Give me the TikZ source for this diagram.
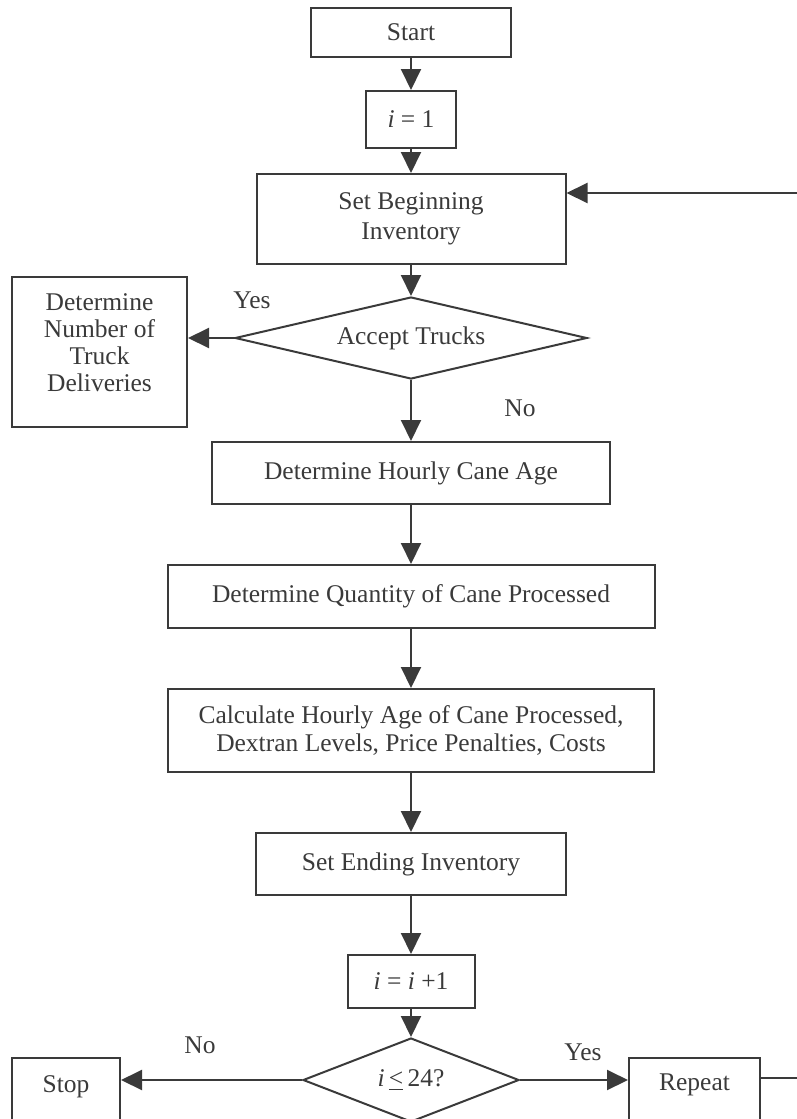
\documentclass[tikz,border=0pt]{standalone}
\usepackage{fontspec}
\setmainfont{Liberation Serif}
\usetikzlibrary{arrows.meta,shapes.geometric}
\definecolor{ink}{HTML}{3A3A3A}
\begin{document}
\begin{tikzpicture}[x=0.5pt,y=-0.5pt,
  every node/.style={font=\fontsize{12.75}{14}\selectfont, text=ink},
  box/.style={draw=ink, line width=1pt, rectangle, inner sep=0pt, align=center},
  dia/.style={draw=ink, line width=1pt, diamond, inner sep=0pt, align=center, aspect=4.3},
  arr/.style={draw=ink, line width=1pt, -{Triangle[length=10.5pt,width=10pt]}},
  ln/.style={draw=ink, line width=1pt},
  lbl/.style={inner sep=0pt}]
\useasboundingbox (0,0) rectangle (797,1119);
\clip (0,0) rectangle (797,1119);
% central column
\node[box, minimum width=100pt, minimum height=24.5pt] (start) at (411,32.5) {Start};
\node[box, minimum width=45pt, minimum height=28.5pt] (i1) at (411,119.5) {\textit{i} = 1};
\node[box, minimum width=154.5pt, minimum height=45pt, font=\fontsize{12.75}{15}\selectfont] (sbi) at (411,219) {Set Beginning\\Inventory};
\node[dia, minimum width=176pt, minimum height=41pt] (acc) at (411,338) {Accept Trucks};
\node[box, minimum width=87.5pt, minimum height=75pt,
  label={[lbl, align=center, yshift=4.5pt, font=\fontsize{12.75}{13.5}\selectfont]center:Determine\\Number of\\Truck\\Deliveries}] (dnum) at (99.5,352) {};
\node[box, minimum width=199pt, minimum height=31pt] (hca) at (411,473) {Determine Hourly Cane Age};
\node[box, minimum width=243.5pt, minimum height=31.5pt] (qcp) at (411,596.5) {Determine Quantity of Cane Processed};
\node[box, minimum width=243pt, minimum height=41.5pt] (calc) at (411,730.5) {Calculate Hourly Age of Cane Processed,\\Dextran Levels, Price Penalties, Costs};
\node[box, minimum width=155pt, minimum height=31pt] (sei) at (411,864) {Set Ending Inventory};
\node[box, minimum width=63.5pt, minimum height=26.5pt] (inc) at (411,981.5) {\textit{i} = \textit{i} +1};
\node[dia, minimum width=108pt, minimum height=42pt, aspect=2.6] (chk) at (411,1080) {\textit{i}\,\underline{<}\,24?};
\node[box, minimum width=54pt, minimum height=40pt,
  label={[lbl, yshift=5.5pt]center:Stop}] (stop) at (66,1098) {};
\node[box, minimum width=65.5pt, minimum height=40pt,
  label={[lbl, yshift=6.5pt]center:Repeat}] (rep) at (694.5,1098) {};
% labels
\node[lbl] (yes1) at (252,300) {Yes};
\node[lbl] (no1) at (520,408) {No};
\node[lbl] (no2) at (200,1045) {No};
\node[lbl] (yes2) at (583,1052) {Yes};
% free ends
\coordinate (rin) at (797,193);
\coordinate (rout) at (797,1078);
% connectors
\draw[arr] (start) -- (i1);
\draw[arr] (i1) -- (sbi);
\draw[arr] (rin) -- (rin -| sbi.east);
\draw[arr] (sbi) -- (acc);
\draw[arr] (acc.west) -- (acc.west -| dnum.east);
\draw[arr] (acc) -- (hca);
\draw[arr] (hca) -- (qcp);
\draw[arr] (qcp) -- (calc);
\draw[arr] (calc) -- (sei);
\draw[arr] (sei) -- (inc);
\draw[arr] (inc) -- (chk);
\draw[arr] (chk.west) -- (chk.west -| stop.east);
\draw[arr] (chk.east) -- (chk.east -| rep.west);
\draw[ln] (rep.east |- rout) -- (rout);
\end{tikzpicture}
\end{document}
